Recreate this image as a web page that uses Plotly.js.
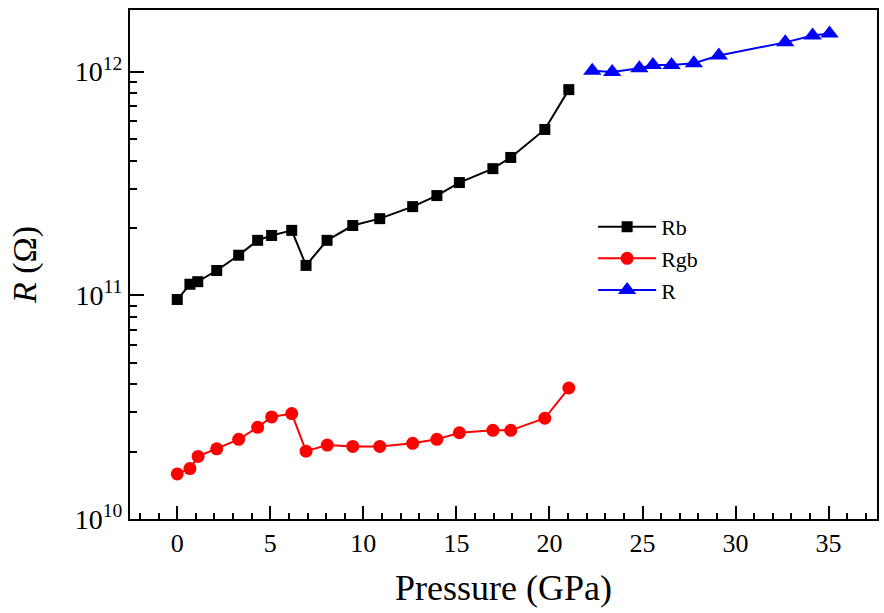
<!DOCTYPE html>
<html>
<head>
<meta charset="utf-8">
<script src="https://cdn.plot.ly/plotly-3.0.1.min.js"></script>
<style>html,body{margin:0;padding:0;background:#fff;}#chart{width:884px;height:613px;}</style>
</head>
<body>
<div id="chart"></div>
<script>
// Pressure (GPa) and resistance (Ohm) values
const rbPressure = [0, 0.68, 1.1, 2.12, 3.3, 4.32, 5.07, 6.15, 6.92, 8.05, 9.43, 10.88, 12.65, 13.95, 15.16, 16.96, 17.92, 19.75, 21.04];
const rbValues = [9.57e10, 1.12e11, 1.15e11, 1.29e11, 1.51e11, 1.76e11, 1.85e11, 1.95e11, 1.36e11, 1.76e11, 2.05e11, 2.2e11, 2.49e11, 2.79e11, 3.19e11, 3.68e11, 4.13e11, 5.51e11, 8.3e11];

const rgbPressure = [0, 0.68, 1.12, 2.12, 3.3, 4.32, 5.07, 6.15, 6.92, 8.06, 9.43, 10.88, 12.65, 13.95, 15.16, 16.96, 17.92, 19.75, 21.04];
const rgbValues = [1.59e10, 1.68e10, 1.905e10, 2.06e10, 2.27e10, 2.57e10, 2.86e10, 2.96e10, 2.01e10, 2.14e10, 2.11e10, 2.11e10, 2.18e10, 2.27e10, 2.43e10, 2.49e10, 2.49e10, 2.82e10, 3.85e10];

const rPressure = [22.3, 23.37, 24.83, 25.56, 26.56, 27.76, 29.1, 32.67, 34.14, 35.05];
const rValues = [1.007e12, 0.994e12, 1.035e12, 1.07e12, 1.07e12, 1.09e12, 1.18e12, 1.35e12, 1.45e12, 1.48e12];

const seriesNames = ['Rb', 'Rgb', 'R'];
const xTickVals = [0, 5, 10, 15, 20, 25, 30, 35];
const yTickVals = [1e10, 1e11, 1e12];
const yTickText = ['10<sup>10</sup>', '10<sup>11</sup>', '10<sup>12</sup>'];
const yMinorVals = [2e10,3e10,4e10,5e10,6e10,7e10,8e10,9e10,2e11,3e11,4e11,5e11,6e11,7e11,8e11,9e11];

const serif = 'Liberation Serif, serif';

const traces = [
  {x: rbPressure, y: rbValues, name: seriesNames[0], mode: 'lines+markers',
   line: {color: '#000000', width: 2}, marker: {symbol: 'square', size: 11, color: '#000000'}},
  {x: rgbPressure, y: rgbValues, name: seriesNames[1], mode: 'lines+markers',
   line: {color: '#ff0000', width: 2}, marker: {symbol: 'circle', size: 13, color: '#ff0000'}},
  {x: rPressure, y: rValues, name: seriesNames[2], mode: 'lines+markers',
   line: {color: '#0000ff', width: 2}, marker: {symbol: 'triangle-up', size: 16, color: '#0000ff'}}
];

const layout = {
  width: 884, height: 613,
  margin: {l: 130, r: 7, t: 10, b: 94},
  paper_bgcolor: '#ffffff', plot_bgcolor: '#ffffff',
  font: {family: serif, color: '#000000', size: 28},
  showlegend: true,
  legend: {x: 0.62, y: 0.615, xanchor: 'left', yanchor: 'top', bgcolor: 'rgba(0,0,0,0)',
           itemwidth: 58,
           font: {family: serif, size: 22, color: '#000000'}, tracegroupgap: 0},
  xaxis: {
    range: [-2.54, 37.6], tickmode: 'array', tickvals: xTickVals,
    ticks: 'inside', ticklen: 13, tickwidth: 2, tickcolor: '#000',
    minor: {dtick: 1, tick0: 0, ticks: 'inside', ticklen: 6, tickwidth: 2, tickcolor: '#000', showgrid: false},
    showline: true, linewidth: 2, linecolor: '#000', mirror: true,
    showgrid: false, zeroline: false,
    tickfont: {family: serif, size: 26, color: '#000'},
    title: {text: 'Pressure (GPa)', font: {family: serif, size: 36, color: '#000'}, standoff: 18}
  },
  yaxis: {
    type: 'log', range: [10, 12.275], tickmode: 'array', tickvals: yTickVals, ticktext: yTickText,
    ticks: 'inside', ticklen: 14, tickwidth: 2, tickcolor: '#000',
    minor: {tickmode: 'array', tickvals: yMinorVals, ticks: 'inside', ticklen: 7, tickwidth: 2, tickcolor: '#000', showgrid: false},
    showline: true, linewidth: 2, linecolor: '#000', mirror: true,
    showgrid: false, zeroline: false,
    tickfont: {family: serif, size: 28, color: '#000'},
    title: {text: '<i>R</i> (Ω)', font: {family: serif, size: 34, color: '#000'}, standoff: 28}
  }
};

Plotly.newPlot('chart', traces, layout, {displayModeBar: false, staticPlot: true});
</script>
</body>
</html>
